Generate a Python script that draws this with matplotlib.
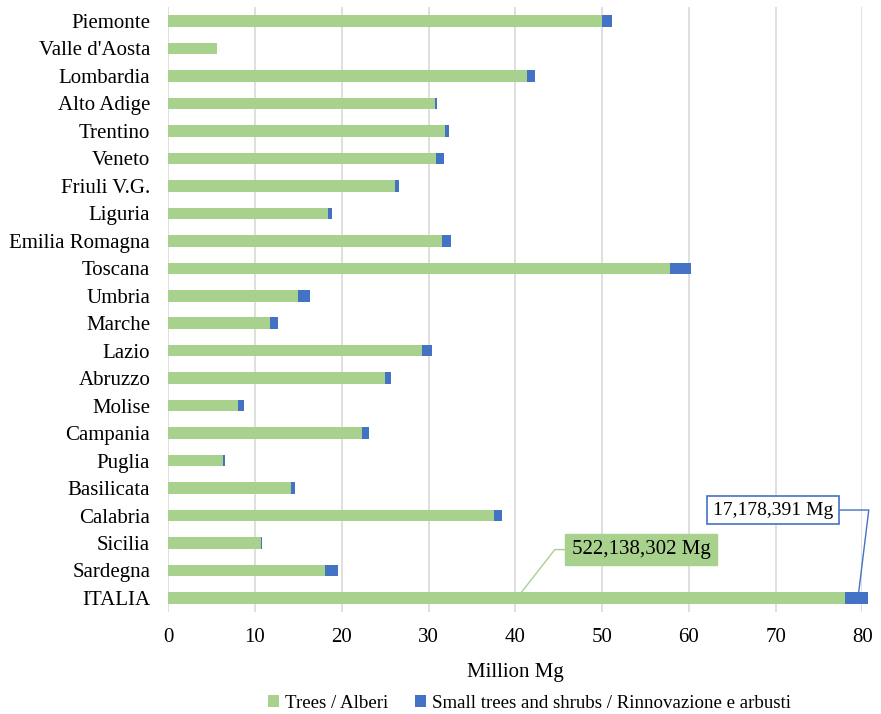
import matplotlib
matplotlib.use("Agg")
import matplotlib.pyplot as plt
import numpy as np

regions = ["Piemonte", "Valle d'Aosta", "Lombardia", "Alto Adige", "Trentino", "Veneto",
           "Friuli V.G.", "Liguria", "Emilia Romagna", "Toscana", "Umbria", "Marche",
           "Lazio", "Abruzzo", "Molise", "Campania", "Puglia", "Basilicata", "Calabria",
           "Sicilia", "Sardegna", "ITALIA"]
trees = [50.0, 5.6, 41.4, 30.7, 31.9, 30.9, 26.1, 18.4, 31.6, 57.8, 15.0, 11.7,
         29.2, 25.0, 8.0, 22.3, 6.3, 14.1, 37.6, 10.7, 18.1, 78.0]
shrubs = [1.1, 0.05, 0.9, 0.25, 0.45, 0.9, 0.45, 0.5, 0.95, 2.4, 1.35, 0.9,
          1.2, 0.65, 0.75, 0.85, 0.25, 0.5, 0.9, 0.15, 1.45, 2.6]
xticks = [0, 10, 20, 30, 40, 50, 60, 70, 80]
label_trees = "Trees / Alberi"
label_shrubs = "Small trees and shrubs / Rinnovazione e arbusti"
italia_trees_text = "522,138,302 Mg"
italia_shrubs_text = "17,178,391 Mg"

GREEN = "#A9D18E"
BLUE = "#4472C4"
FONT = ["Liberation Serif", "DejaVu Serif"]
plt.rcParams["font.family"] = FONT
FS = 15

fig = plt.figure(figsize=(8.81, 7.14), dpi=100)
ax = fig.add_axes([0.191, 0.1433, 0.9788 - 0.191, 0.9898 - 0.1433])

y = np.arange(len(regions))
b1 = ax.barh(y, trees, height=0.42, color=GREEN, label=label_trees, clip_on=False, zorder=3)
b2 = ax.barh(y, shrubs, left=trees, height=0.42, color=BLUE, label=label_shrubs, clip_on=False, zorder=3)

ax.set_xlim(0, 80)
ax.set_ylim(len(regions) - 0.5, -0.5)
ax.set_xticks(xticks)
ax.set_yticks(y)
ax.set_yticklabels(regions, fontsize=FS)
ax.set_xticklabels([str(t) for t in xticks], fontsize=FS)
ax.tick_params(axis="both", length=0)
ax.tick_params(axis="x", pad=12)
ax.tick_params(axis="y", pad=13)
for s in ax.spines.values():
    s.set_visible(False)
ax.xaxis.grid(True, color="#D9D9D9", linewidth=1.2, zorder=0)
ax.set_axisbelow(True)
ax.set_xlabel("Million Mg", fontsize=FS, labelpad=11)

iy = len(regions) - 1
# Trees label for ITALIA
ax.annotate(italia_trees_text, xy=(40.2, iy), xytext=(54.5, iy - 1.76),
            fontsize=FS, ha="center", va="center", zorder=5,
            bbox=dict(boxstyle="square,pad=0.3", fc=GREEN, ec=GREEN),
            arrowprops=dict(arrowstyle="-", color=GREEN, lw=1.0,
                            connectionstyle="angle,angleA=0,angleB=52,rad=0",
                            shrinkA=0, shrinkB=0))
# Shrubs label for ITALIA
ax.annotate(italia_shrubs_text, xy=(79.5, iy), xytext=(69.7, iy - 3.2),
            fontsize=FS - 1, ha="center", va="center", zorder=5,
            bbox=dict(boxstyle="square,pad=0.3", fc="white", ec=BLUE, lw=1.2),
            arrowprops=dict(arrowstyle="-", color=BLUE, lw=1.0,
                            connectionstyle="angle,angleA=0,angleB=83,rad=0",
                            shrinkA=0, shrinkB=0))

fig.legend(handles=[b1, b2], labels=[label_trees, label_shrubs],
           loc="center", bbox_to_anchor=(529.5 / 881, 1 - 703 / 714), ncol=2, frameon=False,
           fontsize=13.6, handlelength=0.6, handleheight=0.6, handletextpad=0.3,
           columnspacing=1.4)

fig.savefig("out.png", dpi=100)
